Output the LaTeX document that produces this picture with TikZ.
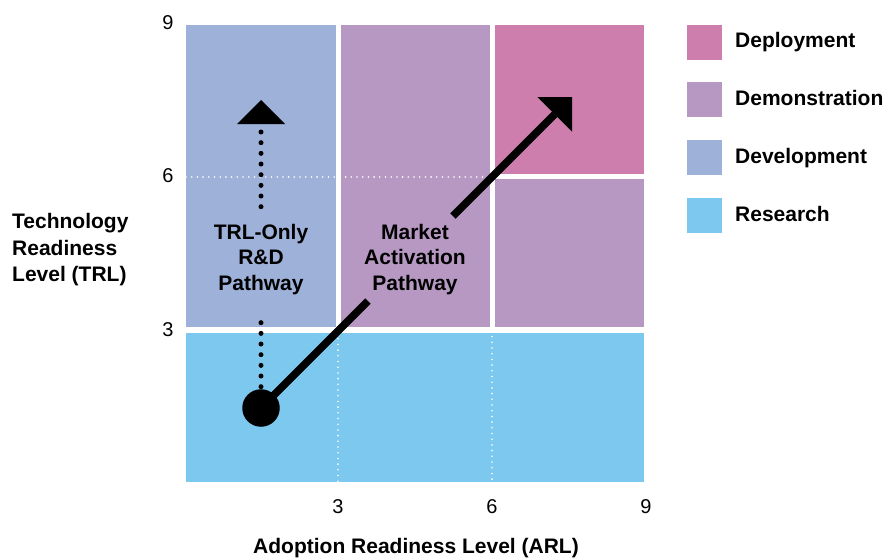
\documentclass[tikz,border=0pt]{standalone}
\usepackage{fontspec}
\setmainfont{Liberation Sans}
\usetikzlibrary{arrows.meta,calc}
\definecolor{cResearch}{HTML}{7DC8EE}
\definecolor{cDevelop}{HTML}{9EB1D9}
\definecolor{cDemo}{HTML}{B698C3}
\definecolor{cDeploy}{HTML}{CD7EAD}
\tikzset{
  cell/.style={draw=none},
  gridline/.style={white,line width=1.8pt,line cap=round,dash pattern=on 0pt off 5.7pt},
  dotline/.style={black,line width=5pt,line cap=round,dash pattern=on 0pt off 10.67pt},
  solidline/.style={black,line width=7.5pt},
  boldlbl/.style={font=\fontsize{21}{25.4}\selectfont\bfseries,inner sep=0pt},
  ticklbl/.style={font=\fontsize{20}{24}\selectfont,inner sep=0pt,anchor=base},
  legbox/.style={minimum width=36pt,minimum height=36pt,inner sep=0pt,draw=white,line width=0.6pt},
  legtxt/.style={font=\fontsize{21}{25}\selectfont\bfseries,inner sep=0pt,anchor=base west}
}
\begin{document}
\begin{tikzpicture}[x=1pt,y=-1pt]
\useasboundingbox (0,0) rectangle (885,557);
% cells
\fill[cDevelop] (186,25) rectangle (336,327);
\fill[cDemo] (341,25) rectangle (490,327);
\fill[cDemo] (495,179) rectangle (644,327);
\fill[cDeploy] (495,25) rectangle (644,174);
\fill[cResearch] (186,333) rectangle (644,482);
% dotted white grid lines
\draw[gridline] (186,177) -- (492,177);
\draw[gridline] (492,177) -- (492,482);
\draw[gridline] (338,333) -- (338,482);
% ticks
\node[ticklbl] (t9y) at (168,29) {9};
\node[ticklbl] (t6y) at (168,182) {6};
\node[ticklbl] (t3y) at (168,336.5) {3};
\node[ticklbl] (t3x) at (338,513) {3};
\node[ticklbl] (t6x) at (492,513) {6};
\node[ticklbl] (t9x) at (646,513) {9};
% axis labels
\node[boldlbl,anchor=base] (xlab) at (416,553) {Adoption Readiness Level (ARL)};
\node[boldlbl,font=\fontsize{21}{26.7}\selectfont\bfseries,anchor=base west,align=left] (ylab) at (12,281.7) {Technology\\Readiness\\Level (TRL)};
% legend
\node[legbox,fill=cDeploy] (lb1) at (704,42) {};
\node[legbox,fill=cDemo] (lb2) at (704,99.5) {};
\node[legbox,fill=cDevelop] (lb3) at (704,157) {};
\node[legbox,fill=cResearch] (lb4) at (704,215) {};
\node[legtxt] (lt1) at (735,47) {Deployment};
\node[legtxt] (lt2) at (735,105) {Demonstration};
\node[legtxt] (lt3) at (735,163) {Development};
\node[legtxt] (lt4) at (735,221) {Research};
% pathway labels
\node[boldlbl,anchor=base,align=center] (trl) at (261,290) {TRL-Only\\R\&D\\Pathway};
\node[boldlbl,anchor=base,align=center] (mkt) at (415,290) {Market\\Activation\\Pathway};
% start dot
\node[circle,fill=black,minimum size=37.5pt,inner sep=0pt] (dot) at (261,408) {};
\coordinate (tip) at (572,97);
\coordinate (vtip) at (261,100);
% dotted vertical pathway
\draw[dotline] (261,386.7) -- (261,312.3);
\draw[dotline] (261,206.7) -- (261,131.7);
\fill (vtip) -- ++(-24,24) -- ++(48,0) -- cycle;
% solid diagonal pathway
\draw[solidline] (dot.center) -- ($(dot.center)!0.344!(tip)$);
\draw[solidline,-{Triangle[length=24.5pt,width=49pt,line width=0pt]}] ($(dot.center)!0.617!(tip)$) -- (tip);
\end{tikzpicture}
\end{document}
